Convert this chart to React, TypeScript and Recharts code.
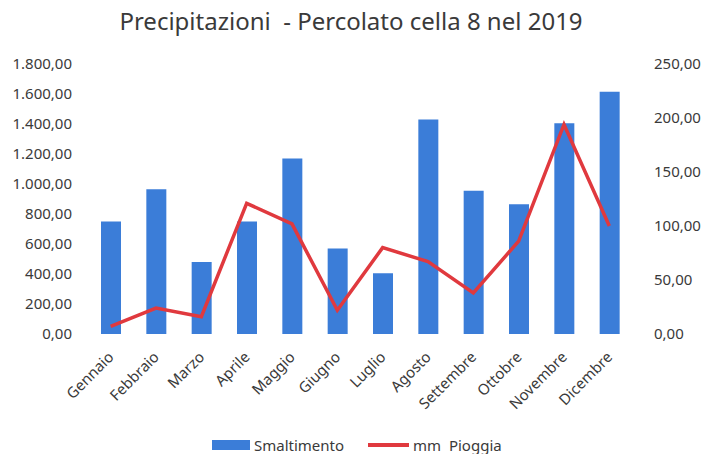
import { ComposedChart, Bar, Line, XAxis, YAxis } from "recharts"

const BLUE = "#3b7dd8"
const RED = "#e0393e"
const TEXT = "#3a3a3a"
const FONT = "'Noto Sans', sans-serif"

const months = [
  "Gennaio", "Febbraio", "Marzo", "Aprile", "Maggio", "Giugno",
  "Luglio", "Agosto", "Settembre", "Ottobre", "Novembre", "Dicembre",
]
const smaltimento = [750, 965, 480, 750, 1170, 570, 405, 1430, 955, 865, 1405, 1615]
const pioggia = [7, 24, 16, 121, 102, 22, 80, 67, 38, 86, 194, 100]
const leftTicks = [0, 200, 400, 600, 800, 1000, 1200, 1400, 1600, 1800]
const rightTicks = [0, 50, 100, 150, 200, 250]

// formato italiano: 1.800,00
function fmt(v: number) {
  const [int, dec] = v.toFixed(2).split(".")
  return int.replace(/\B(?=(\d{3})+(?!\d))/g, ".") + "," + dec
}

const rows = months.map((m, i) => ({ name: m, smaltimento: smaltimento[i], pioggia: pioggia[i] }))

function MonthTick({ x, payload }: any) {
  const tx = x + 4
  const ty = 358
  return (
    <text
      x={tx}
      y={ty}
      textAnchor="end"
      transform={`rotate(-45, ${tx}, ${ty})`}
      fill={TEXT}
      fontSize={15}
      fontFamily={FONT}
    >
      {payload.value}
    </text>
  )
}

export default function App() {
  return (
    <div style={{ position: "absolute", left: 0, top: 0, width: 702, height: 454, background: "#fff", fontFamily: FONT }}>
      <div
        style={{
          position: "absolute", left: 0, top: 4, width: 702, textAlign: "center",
          fontSize: 24, color: TEXT, whiteSpace: "pre",
        }}
      >
        {"Precipitazioni  - Percolato cella 8 nel 2019"}
      </div>
      <ComposedChart width={702} height={454} data={rows} margin={{ top: 64, right: 0, bottom: 0, left: 0 }}>
        <XAxis
          dataKey="name"
          axisLine={false}
          tickLine={false}
          height={120}
          interval={0}
          tick={<MonthTick />}
        />
        <YAxis
          yAxisId="left"
          orientation="left"
          width={88}
          domain={[0, 1800]}
          ticks={leftTicks}
          tickFormatter={fmt}
          axisLine={false}
          tickLine={false}
          tickMargin={10}
          tick={{ fontSize: 15, fill: TEXT, fontFamily: FONT }}
        />
        <YAxis
          yAxisId="right"
          orientation="right"
          width={70}
          domain={[0, 250]}
          ticks={rightTicks}
          tickFormatter={fmt}
          axisLine={false}
          tickLine={false}
          tickMargin={16}
          tick={{ fontSize: 15, fill: TEXT, fontFamily: FONT, textAnchor: "start" }}
        />
        <Bar yAxisId="left" dataKey="smaltimento" fill={BLUE} barSize={20} isAnimationActive={false} />
        <Line
          yAxisId="right"
          dataKey="pioggia"
          stroke={RED}
          strokeWidth={3.5}
          dot={false}
          type="linear"
          isAnimationActive={false}
        />
      </ComposedChart>
      <div
        style={{
          position: "absolute", left: 212, top: 436, height: 18, display: "flex",
          alignItems: "center", fontSize: 15, color: TEXT, whiteSpace: "pre",
        }}
      >
        <span style={{ display: "inline-block", width: 38, height: 10, background: BLUE, marginRight: 4 }} />
        <span>Smaltimento</span>
        <span style={{ display: "inline-block", width: 41, height: 4, background: RED, marginLeft: 24, marginRight: 4 }} />
        <span>{"mm  Pioggia"}</span>
      </div>
    </div>
  )
}
